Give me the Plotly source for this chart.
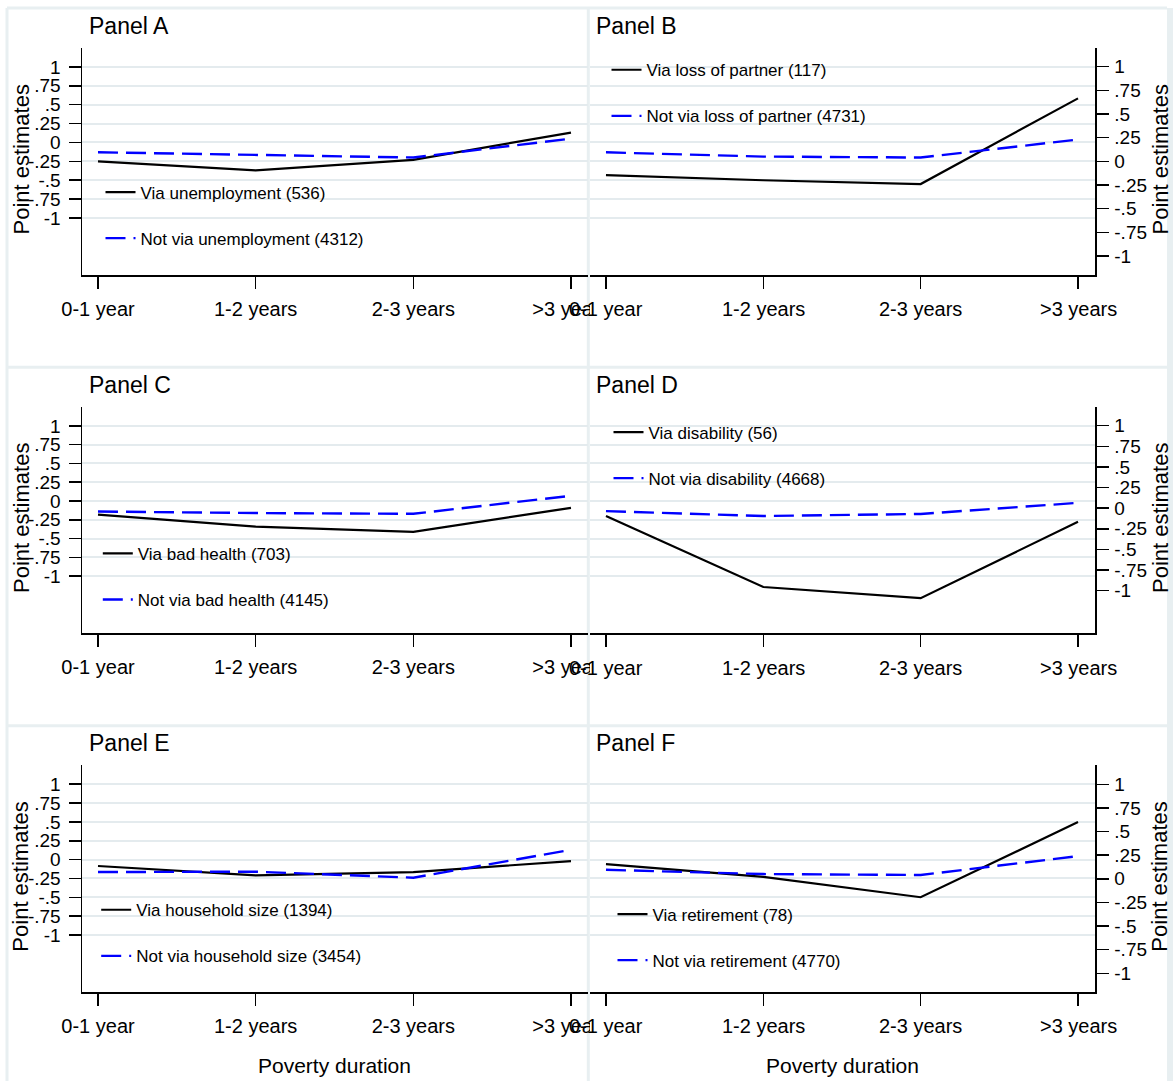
import plotly.graph_objects as go

# ---------------- data ----------------
categories = ["0-1 year", "1-2 years", "2-3 years", ">3 years"]

panel_titles = ["Panel A", "Panel B", "Panel C", "Panel D", "Panel E", "Panel F"]

via_labels = ["Via unemployment (536)", "Via loss of partner (117)", "Via bad health (703)",
              "Via disability (56)", "Via household size (1394)", "Via retirement (78)"]
notvia_labels = ["Not via unemployment (4312)", "Not via loss of partner (4731)",
                 "Not via bad health (4145)", "Not via disability (4668)",
                 "Not via household size (3454)", "Not via retirement (4770)"]

via_a = [-0.25, -0.37, -0.23, 0.13]
notvia_a = [-0.13, -0.17, -0.20, 0.05]
via_b = [-0.145, -0.20, -0.24, 0.665]
notvia_b = [0.095, 0.05, 0.04, 0.23]
via_c = [-0.18, -0.34, -0.41, -0.09]
notvia_c = [-0.14, -0.16, -0.17, 0.07]
via_d = [-0.095, -0.955, -1.09, -0.165]
notvia_d = [-0.035, -0.095, -0.07, 0.065]
via_e = [-0.085, -0.21, -0.165, -0.02]
notvia_e = [-0.165, -0.16, -0.24, 0.13]
via_f = [0.155, 0.02, -0.195, 0.60]
notvia_f = [0.095, 0.05, 0.04, 0.24]

via_series = [via_a, via_b, via_c, via_d, via_e, via_f]
notvia_series = [notvia_a, notvia_b, notvia_c, notvia_d, notvia_e, notvia_f]

y_tick_vals = [1, 0.75, 0.5, 0.25, 0, -0.25, -0.5, -0.75, -1]
y_tick_text = ["1", ".75", ".5", ".25", "0", "-.25", "-.5", "-.75", "-1"]

x_title = "Poverty duration"
y_title = "Point estimates"

# ---------------- layout geometry ----------------
W, H = 1173, 1081
FONT = "Liberation Sans, Arial, Helvetica, sans-serif"
GRID = "#e4ebee"
FRAME = "#e8eff1"


def fx(p):
    return p / W


def fy(p):
    return 1 - p / H


col_dom = [[fx(82), fx(588)], [fx(590), fx(1095)]]
row_top = [47.7, 406.7, 765.0]
row_bot = [275.3, 633.3, 992.3]
row_step = 358.5
grid_range = [-1.76, 1.255]
right_ranges = {1: [-1.204, 1.20], 3: [-1.516, 1.23], 5: [-1.201, 1.204]}
x_range = [-0.1015, 3.108]

legend_pos = [(106, 193), (612, 70.7), (103.3, 554.3), (614, 433), (101.7, 910.7), (618, 915)]

fig = go.Figure()
layout = dict(
    width=W, height=H,
    margin=dict(l=0, r=0, t=0, b=0, pad=0, autoexpand=False),
    paper_bgcolor="white", plot_bgcolor="white",
    font=dict(family=FONT, color="black"),
    showlegend=True,
)
annotations = []
shapes = []

for i in range(6):
    n = i + 1
    row, col = i // 2, i % 2
    xid = "x" if n == 1 else f"x{n}"
    yid = "y" if n == 1 else f"y{n}"
    xkey = "xaxis" if n == 1 else f"xaxis{n}"
    ykey = "yaxis" if n == 1 else f"yaxis{n}"
    leg = "legend" if n == 1 else f"legend{n}"

    fig.add_trace(go.Scatter(
        x=categories, y=via_series[i], mode="lines", name=via_labels[i],
        line=dict(color="black", width=2.2),
        xaxis=xid, yaxis=yid, legend=leg, legendgroup=f"g{n}a", hoverinfo="skip"))
    fig.add_trace(go.Scatter(
        x=categories, y=notvia_series[i], mode="lines", name=notvia_labels[i],
        line=dict(color="#0000ff", width=2.4, dash="20px,8px"),
        xaxis=xid, yaxis=yid, legend=leg, legendgroup=f"g{n}b", hoverinfo="skip"))

    dom_y = [fy(row_bot[row]), fy(row_top[row])]
    layout[xkey] = dict(
        domain=col_dom[col], anchor=yid, type="category", range=x_range,
        showline=True, linecolor="black", linewidth=1.5,
        ticks="outside", ticklen=12, tickwidth=1.5, tickcolor="black",
        tickfont=dict(size=20, family=FONT, color="black"),
        showgrid=False, zeroline=False, automargin=False,
        showticklabels=(col == 0), ticklabelstandoff=3, fixedrange=True)

    common_y = dict(
        domain=dom_y, anchor=xid, zeroline=False, automargin=False,
        showline=True, linecolor="black", linewidth=1.5,
        ticks="outside", ticklen=12, tickwidth=1.5, tickcolor="black",
        tickvals=y_tick_vals, ticktext=y_tick_text,
        tickfont=dict(size=19, family=FONT, color="black"), fixedrange=True)
    if col == 0:
        layout[ykey] = dict(common_y, side="left", range=grid_range,
                            showgrid=True, gridcolor=GRID, gridwidth=2,
                            ticklabelstandoff=4)
    else:
        layout[ykey] = dict(common_y, side="right", range=right_ranges[i],
                            showgrid=False, ticklabelstandoff=2)
        gkey = f"yaxis{n + 6}"
        gid = f"y{n + 6}"
        layout[gkey] = dict(overlaying=yid, anchor=xid, side="left", range=grid_range,
                            tickvals=y_tick_vals, showticklabels=False, ticks="",
                            showline=False, zeroline=False, automargin=False,
                            showgrid=True, gridcolor=GRID, gridwidth=2, fixedrange=True)
        fig.add_trace(go.Scatter(x=[], y=[], xaxis=xid, yaxis=gid, showlegend=False,
                                 hoverinfo="skip"))
        # x tick labels of right panels (drawn over the clipped neighbour label)
        for c in categories:
            annotations.append(dict(
                x=c, xref=xid, y=fy(309 + row * row_step), yref="paper",
                text=c, showarrow=False, xanchor="center", yanchor="middle",
                font=dict(size=20, family=FONT, color="black")))

    lx, ly = legend_pos[i]
    layout[leg] = dict(
        x=fx(lx - 5.5), y=fy(ly - 18.5), xanchor="left", yanchor="top",
        bgcolor="rgba(0,0,0,0)", borderwidth=0, tracegroupgap=21,
        font=dict(size=17, family=FONT, color="black"))

    # panel title
    annotations.append(dict(
        x=fx(87 if col == 0 else 594), y=fy(26 + row * row_step), xref="paper", yref="paper",
        text=panel_titles[i], showarrow=False, xanchor="left", yanchor="middle",
        font=dict(size=23, family=FONT, color="black")))
    # y-axis title
    annotations.append(dict(
        x=fx(21 if col == 0 else 1160), y=fy((row_top[row] + row_bot[row]) / 2 - 2),
        xref="paper", yref="paper", text=y_title, textangle=-90, showarrow=False,
        xanchor="center", yanchor="middle",
        font=dict(size=22, family=FONT, color="black")))

    if row == 2:
        annotations.append(dict(
            x=(col_dom[col][0] + col_dom[col][1]) / 2, y=fy(1065), xref="paper", yref="paper",
            text=x_title, showarrow=False, xanchor="center", yanchor="middle",
            font=dict(size=21, family=FONT, color="black")))


# frame / panel separators
def pline(x0, y0, x1, y1, w=3, color=FRAME):
    return dict(type="line", xref="paper", yref="paper", x0=fx(x0), y0=fy(y0),
                x1=fx(x1), y1=fy(y1), line=dict(color=color, width=w), layer="below")


shapes.append(pline(7, 8, 1167, 8))
shapes.append(pline(7, 8, 7, 1081))
shapes.append(pline(588.3, 8, 588.3, 1081))
shapes.append(pline(7, 367.3, 1167, 367.3))
shapes.append(pline(7, 725.8, 1167, 725.8))
shapes.append(dict(type="rect", xref="paper", yref="paper", x0=fx(1167), x1=1, y0=0, y1=fy(8),
                   fillcolor=FRAME, line=dict(width=0), layer="below"))

# clip the left panels' last tick label at the right panel's edge
for row in range(3):
    shapes.append(dict(type="rect", xref="paper", yref="paper",
                       x0=fx(590), x1=fx(612),
                       y0=fy(324 + row * row_step), y1=fy(293 + row * row_step),
                       fillcolor="white", line=dict(width=0), layer="above"))

layout["annotations"] = annotations
layout["shapes"] = shapes
fig.update_layout(**layout)

fig.write_html(
    "out.html",
    config={"displayModeBar": False, "staticPlot": True},
    post_script="document.body.style.margin='0';document.body.style.overflow='hidden';",
)
